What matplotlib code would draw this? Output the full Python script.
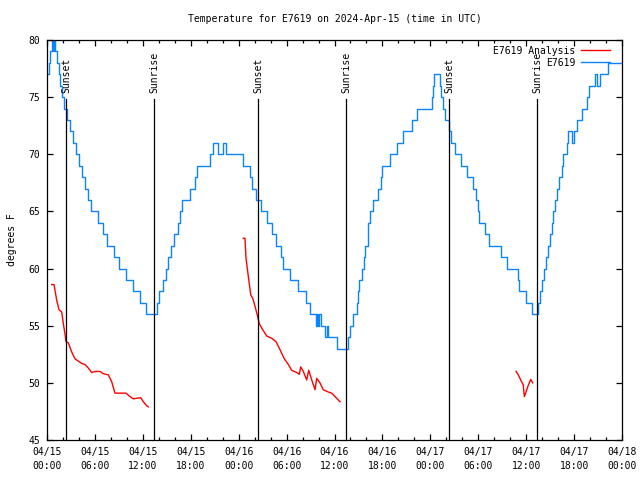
import numpy as np
import pandas as pd
import matplotlib
matplotlib.use('Agg')
import matplotlib.pyplot as plt
import matplotlib.dates as mdates

plt.rcParams['font.family'] = ['DejaVu Sans Mono']
plt.rcParams['font.size'] = 7

start = pd.Timestamp('2024-04-15 00:00')

# station readings: hours after start / degrees F (value held until next point)
obs_hours = [0.0, 0.2, 0.4, 0.6, 0.75, 0.85, 1.05, 1.25, 1.45, 1.65, 1.85, 2.1, 2.47, 2.88,
             3.22, 3.6, 4.04, 4.42, 4.76, 5.17, 5.47, 6.42, 7.05, 7.47, 8.39, 9.02, 9.89,
             10.73, 11.61, 12.40, 13.74, 14.06, 14.5, 14.9, 15.1, 15.5, 15.85, 16.4, 16.65,
             16.95, 17.9, 18.53, 18.74, 20.41, 20.83, 21.4, 22.08, 22.41, 24.58, 25.42,
             25.63, 26.17, 26.76, 27.51, 28.14, 28.64, 29.3, 29.6, 30.43, 31.47, 32.43,
             32.93, 33.68, 33.85, 33.97, 34.1, 34.27, 34.81, 35.02, 35.22, 36.35, 37.73,
             37.94, 38.36, 38.78, 38.9, 39.1, 39.4, 39.73, 39.82, 40.16, 40.23, 40.45,
             40.78, 41.49, 41.79, 41.91, 42.95, 43.79, 44.54, 45.67, 46.37, 48.2, 48.35,
             48.5, 49.21, 49.35, 49.62, 49.84, 50.38, 50.55, 51.09, 51.8, 52.55, 53.38,
             53.72, 54.0, 54.13, 54.85, 55.35, 56.85, 57.64, 59.02, 59.1, 59.98, 60.73,
             61.52, 61.73, 61.95, 62.24, 62.48, 62.77, 62.99, 63.2, 63.4, 63.67, 63.86,
             64.15, 64.45, 64.65, 65.08, 65.28, 65.7, 65.99, 66.4, 66.95, 67.58, 67.9,
             68.62, 68.9, 69.25, 70.25, 72.0]
obs_temps = [77, 78, 79, 80, 79, 80, 79, 78, 77, 76, 75, 74, 73, 72,
             71, 70, 69, 68, 67, 66, 65, 64, 63, 62, 61, 60, 59,
             58, 57, 56, 57, 58, 59, 60, 61, 62, 63, 64, 65,
             66, 67, 68, 69, 70, 71, 70, 71, 70, 69, 68,
             67, 66, 65, 64, 63, 62, 61, 60, 59, 58, 57,
             56, 55, 56, 55, 56, 55, 54, 55, 54, 53, 54,
             55, 56, 57, 58, 59, 60, 61, 62, 63, 64, 65,
             66, 67, 68, 69, 70, 71, 72, 73, 74, 75, 76,
             77, 76, 75, 74, 73, 72, 71, 70, 69, 68, 67,
             66, 65, 64, 63, 62, 61, 60, 59, 58, 57, 56,
             57, 58, 59, 60, 61, 62, 63, 64, 65, 66, 67,
             68, 69, 70, 71, 72, 71, 72, 73, 74, 75, 76,
             77, 76, 77, 78, 78]

# analysis values, three separate pieces
ana1_hours = [0.59, 0.88, 1.00, 1.21, 1.50, 1.84, 2.04, 2.25, 2.38, 2.67, 3.09, 3.51, 3.92,
              4.35, 4.76, 5.17, 5.60, 6.01, 6.64, 7.05, 7.68, 8.10, 8.51, 9.14, 9.89, 10.39,
              10.81, 11.23, 11.73, 12.06, 12.48, 12.68]
ana1_temps = [58.6, 58.6, 58.1, 57.25, 56.4, 56.2, 55.2, 54.3, 53.6, 53.5, 52.7, 52.1, 51.9,
              51.7, 51.6, 51.3, 50.9, 51.0, 51.0, 50.8, 50.7, 50.1, 49.1, 49.1, 49.1, 48.8,
              48.6, 48.65, 48.7, 48.35, 48.0, 47.9]
ana2_hours = [24.58, 24.79, 24.92, 25.21, 25.51, 25.76, 26.05, 26.38, 26.58, 26.88, 27.51,
              28.14, 28.68, 29.18, 29.68, 30.22, 30.64, 31.27, 31.59, 31.77, 32.09, 32.52,
              32.77, 33.15, 33.56, 33.77, 34.18, 34.60, 35.22, 35.65, 36.06, 36.48, 36.69]
ana2_temps = [62.65, 62.65, 60.9, 59.3, 57.7, 57.4, 56.7, 55.8, 55.2, 54.8, 54.1,
              53.9, 53.6, 52.9, 52.15, 51.6, 51.1, 50.9, 50.75, 51.4, 51.0, 50.25,
              51.1, 50.25, 49.4, 50.4, 50.0, 49.4, 49.2, 49.1, 48.8, 48.5, 48.35]
ana3_hours = [58.73, 59.02, 59.32, 59.64, 59.77, 59.98, 60.27, 60.57, 60.82]
ana3_temps = [51.0, 50.7, 50.25, 49.8, 48.8, 49.2, 49.8, 50.3, 50.0]

sun_hours = [2.42, 13.44, 26.46, 37.48, 50.38, 61.40]
sun_names = ['Sunset', 'Sunrise', 'Sunset', 'Sunrise', 'Sunset', 'Sunrise']


def to_time(hours):
    return start + pd.to_timedelta(np.array(hours, dtype=float), unit='h')


fig = plt.figure(figsize=(6.4, 4.8), dpi=100)
ax = fig.add_axes([47 / 640, 40 / 480, 575 / 640, 400 / 480])

ax.plot(to_time(ana1_hours), ana1_temps, color='#ff0000', lw=1.0, label='E7619 Analysis')
ax.plot(to_time(ana2_hours), ana2_temps, color='#ff0000', lw=1.0)
ax.plot(to_time(ana3_hours), ana3_temps, color='#ff0000', lw=1.0)
ax.plot(to_time(obs_hours), obs_temps, color='#0a84ff', lw=1.0,
        drawstyle='steps-post', label='E7619')

for h, name in zip(sun_hours, sun_names):
    t = start + pd.Timedelta(hours=h)
    ax.plot([t, t], [45, 74.8], color='black', lw=0.9)
    ax.text(t, 75.4, name, rotation=90, ha='center', va='bottom')

ax.set_xlim(start, start + pd.Timedelta(hours=72))
ax.set_ylim(45, 80)
ax.set_yticks(range(45, 81, 5))
ax.xaxis.set_major_locator(mdates.HourLocator(byhour=range(0, 24, 6)))
ax.xaxis.set_minor_locator(mdates.HourLocator(byhour=range(0, 24, 2)))
ax.xaxis.set_major_formatter(mdates.DateFormatter('%m/%d\n%H:%M'))
for lab in ax.get_xticklabels():
    lab.set_linespacing(1.5)

ax.tick_params(which='both', direction='in', top=True, right=True, width=0.9)
ax.tick_params(which='major', length=4.5, pad=5)
ax.tick_params(which='minor', length=2.5)
for s in ax.spines.values():
    s.set_linewidth(0.9)

ax.set_ylabel('degrees F', labelpad=8)
# title centred over the plot area
ax.text(0.5, 1 + 21 / 400, 'Temperature for E7619 on 2024-Apr-15 (time in UTC)',
        transform=ax.transAxes, ha='center', va='center')

ax.legend(loc='upper right', bbox_to_anchor=(0.986, 0.995), markerfirst=False,
          frameon=False, handlelength=3.0, handletextpad=0.6, labelspacing=0.2,
          borderaxespad=0.0, borderpad=0.4)

fig.savefig('out.png', dpi=100)
